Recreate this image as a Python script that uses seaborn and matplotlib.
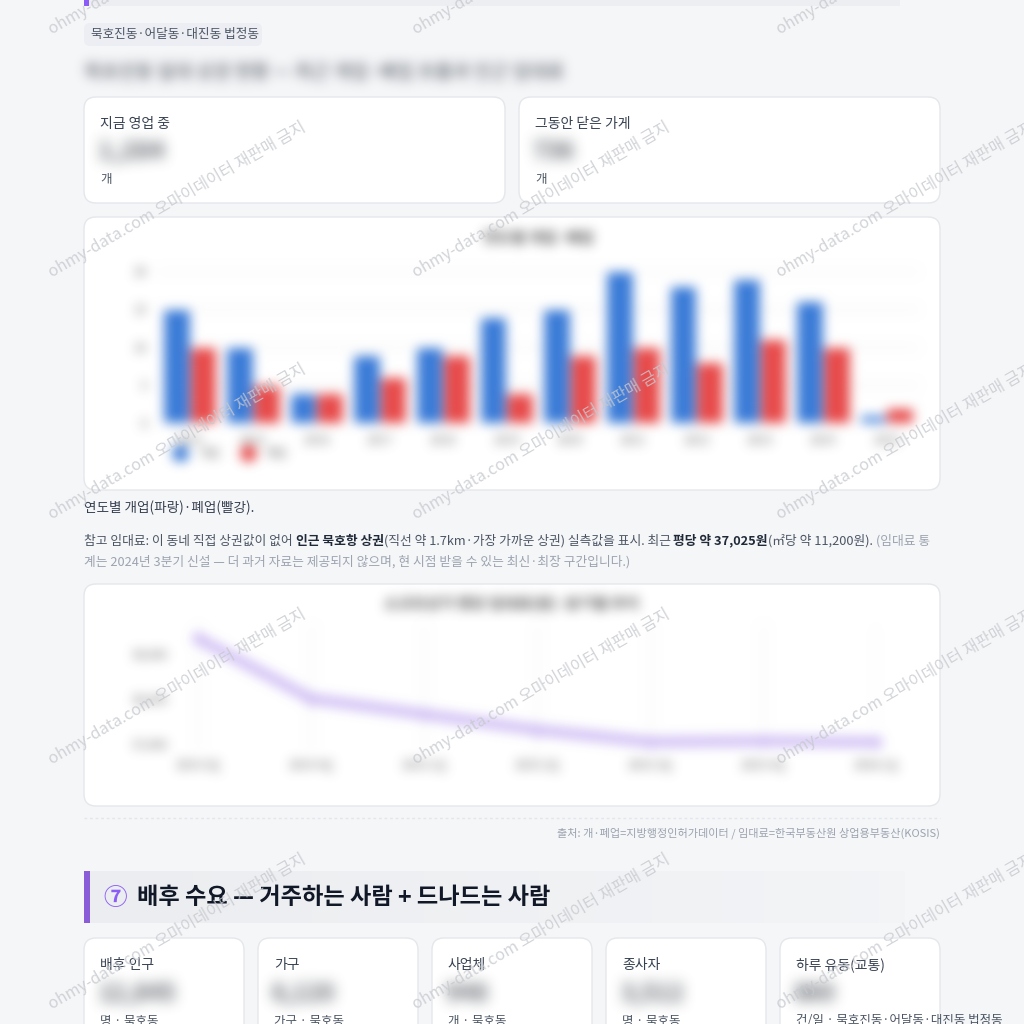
import numpy as np
import pandas as pd
import matplotlib
matplotlib.use('Agg')
import matplotlib.pyplot as plt
import seaborn as sns
from matplotlib.patches import FancyBboxPatch, Rectangle
from matplotlib.lines import Line2D

# 연도별 개업 / 폐업 건수
years = ['2014', '2015', '2016', '2017', '2018', '2019', '2020', '2021', '2022', '2023', '2024', '2025']
opened = [15, 10, 4, 9, 10, 14, 15, 20, 18, 19, 16, 1]
closed = [10, 5, 4, 6, 9, 4, 9, 10, 8, 11, 10, 2]
bar_ticks = [0, 5, 10, 15, 20]

# 분기별 평당 임대료
quarters = ['2024.3Q', '2024.4Q', '2025.1Q', '2025.2Q', '2025.3Q', '2025.4Q', '2026.1Q']
rent = [39350, 38000, 37650, 37300, 37030, 37050, 37025]
rent_ticks = [37000, 38000, 39000]

top_cards = ['지금 영업 중', '그동안 닫은 가게']
top_blobs = ['1,284', '736']
stat_cards = ['배후 인구', '가구', '사업체', '종사자', '하루 유동(교통)']
stat_blobs = ['12,845', '6,120', '948', '3,512', '860']
stat_units = ['명 · 묵호동', '가구 · 묵호동', '개 · 묵호동', '명 · 묵호동', '건/일 · 묵호진동·어달동·대진동 법정동']

W = H = 1024
BG = '#f5f6f8'
PURPLE = '#8b5cf6'


def box(a, r, axis):
    n = 2 * r + 1
    a = np.swapaxes(a, 0, axis)
    pad = [(r + 1, r)] + [(0, 0)] * (a.ndim - 1)
    c = np.cumsum(np.pad(a, pad), axis=0)
    out = (c[n:] - c[:-n]) / n
    return np.swapaxes(out, 0, axis)


class Blur:
    """흐림 효과 (agg_filter)"""
    def __init__(self, r):
        self.r = r

    def __call__(self, im, dpi):
        pad = 3 * self.r + 2
        im = np.pad(im, ((pad, pad), (pad, pad), (0, 0)))
        a = im[..., 3:4]
        pm = np.concatenate([im[..., :3] * a, a], axis=2)
        for _ in range(3):
            pm = box(pm, self.r, 0)
            pm = box(pm, self.r, 1)
        alpha = pm[..., 3:4]
        out = pm.copy()
        out[..., :3] = np.clip(pm[..., :3] / np.maximum(alpha, 1e-6), 0, 1)
        out[..., 3:4] = np.clip(alpha, 0, 1)
        return out, -pad, -pad


sns.set_theme(style='white')
plt.rcParams['font.family'] = ['Noto Sans CJK KR', 'DejaVu Sans']

fig = plt.figure(figsize=(10.24, 10.24), dpi=100)
fig.patch.set_facecolor(BG)
page = fig.add_axes([0, 0, 1, 1])
page.set_xlim(0, W)
page.set_ylim(H, 0)
page.axis('off')
renderer = fig.canvas.get_renderer()


def card(x0, y0, x1, y1, rad=12):
    page.add_patch(FancyBboxPatch((x0, y0), x1 - x0, y1 - y0,
                                  boxstyle='round,pad=0,rounding_size=%d' % rad,
                                  fc='white', ec='#e4e7eb', lw=1))


def blob(x, y, s, size=19, r=6):
    t = page.text(x, y, s, fontsize=size, fontweight='heavy', color='#5f646b',
                  va='center', ha='left')
    t.set_agg_filter(Blur(r))


def width_of(s, size, weight='normal'):
    t = page.text(0, 0, s, fontsize=size, fontweight=weight)
    w = t.get_window_extent(renderer).width
    t.remove()
    return w


def text_runs(x, y, runs, size):
    sw = width_of('가 가', size) - width_of('가가', size)
    for s, weight, color in runs:
        lead = len(s) - len(s.lstrip(' '))
        trail = len(s) - len(s.rstrip(' '))
        x += lead * sw
        t = page.text(x, y, s.strip(' '), fontsize=size, fontweight=weight,
                      color=color, va='center', ha='left')
        x += t.get_window_extent(renderer).width + trail * sw


# 상단 섹션 띠
page.add_patch(Rectangle((84, -6), 816, 12, fc='#eceef2', ec='none'))
page.add_patch(Rectangle((84, -6), 5, 12, fc=PURPLE, ec='none'))

# 법정동 배지
page.add_patch(FancyBboxPatch((84, 23), 178, 23, boxstyle='round,pad=0,rounding_size=6',
                              fc='#eceef3', ec='none'))
page.text(91, 34.5, '묵호진동·어달동·대진동 법정동', fontsize=9.1, color='#4b5563', va='center')

t = page.text(84, 72, '묵호진동 일대 상권 현황 — 최근 개업·폐업 흐름과 인근 임대료',
              fontsize=13.5, fontweight='heavy', color='#7f848b', va='center')
t.set_agg_filter(Blur(5))

# 영업 / 폐업 카드
for i, (lab, b) in enumerate(zip(top_cards, top_blobs)):
    x0 = 84 + i * 435
    card(x0, 97, x0 + 421, 203)
    page.text(x0 + 16, 124, lab, fontsize=10, color='#374151', va='center')
    blob(x0 + 14, 152, b, size=18 if i == 0 else 17)
    page.text(x0 + 16, 180, '개', fontsize=9, color='#4b5563', va='center')

# 막대 차트 카드
card(84, 217, 940, 490)
df_bar = pd.DataFrame({'연도': years * 2, '건수': opened + closed,
                       '구분': ['개업'] * len(years) + ['폐업'] * len(years)})
axb = fig.add_axes([158 / W, 1 - 423 / H, 760 / W, 152 / H])
sns.barplot(data=df_bar, x='연도', y='건수', hue='구분', palette=['#3a7bd8', '#e84a4a'],
            width=0.84, gap=0, saturation=1, legend=False, ax=axb)
axb.set_ylim(0, 20)
axb.set_yticks(bar_ticks)
axb.set_facecolor('none')
axb.grid(axis='y', color='#e9e9e9', lw=1)
axb.set_xlabel('')
axb.set_ylabel('')
sns.despine(ax=axb, left=True, bottom=True)
axb.tick_params(colors='#666666', labelsize=8.5, length=0, pad=8)
handles = [Line2D([], [], marker='o', ls='', ms=11, mfc=c, mec=c) for c in ['#3a7bd8', '#e84a4a']]
axb.legend(handles, ['개업', '폐업'], loc='center left', bbox_to_anchor=(0.0, -0.2),
           frameon=False, ncol=2, fontsize=8.5, labelcolor='#666666',
           handletextpad=0.5, columnspacing=1.4)
axb.text(0.5, 1 + 33 / 152, '연도별 개업·폐업', transform=axb.transAxes, ha='center',
         va='center', fontsize=11, fontweight='bold', color='#555555')
axb.set_agg_filter(Blur(5))

page.text(84, 508, '연도별 개업(파랑)·폐업(빨강).', fontsize=9.8, color='#374151', va='center')

dark = '#4b5563'
bold = '#1f2937'
grey = '#9ca3af'
text_runs(84, 541, [('참고 임대료: 이 동네 직접 상권값이 없어 ', 'normal', dark),
                    ('인근 묵호항 상권', 'bold', bold),
                    ('(직선 약 1.7km·가장 가까운 상권) 실측값을 표시. 최근 ', 'normal', dark),
                    ('평당 약 37,025원', 'bold', bold),
                    ('(㎡당 약 11,200원). ', 'normal', dark),
                    ('(임대료 통', 'normal', grey)], 9.2)
text_runs(84, 562, [('계는 2024년 3분기 신설 — 더 과거 자료는 제공되지 않으며, 현 시점 받을 수 있는 최신·최장 구간입니다.)',
                     'normal', grey)], 9.2)

# 임대료 라인 차트 카드
card(84, 584, 940, 806)
df_rent = pd.DataFrame({'분기': quarters, '임대료': rent})
axl = fig.add_axes([198 / W, 1 - 750 / H, 678 / W, 125 / H])
sns.lineplot(data=df_rent, x='분기', y='임대료', sort=False, color='#cdbaf4', lw=7,
             marker='o', ms=8, mec='#cdbaf4', ax=axl, clip_on=False)
axl.set_xlim(0, len(quarters) - 1)
axl.set_ylim(36850, 39650)
axl.set_yticks(rent_ticks)
axl.set_yticklabels(['{:,}'.format(v) for v in rent_ticks])
axl.set_facecolor('none')
axl.grid(axis='x', color='#efefef', lw=1)
axl.set_xlabel('')
axl.set_ylabel('')
sns.despine(ax=axl, left=True, bottom=True)
axl.tick_params(colors='#666666', labelsize=8.5, length=0)
axl.tick_params(axis='y', pad=22)
axl.tick_params(axis='x', pad=6)
axl.set_agg_filter(Blur(5))
t = page.text(512, 604, '소규모상가 평당 임대료(원)·분기별 추이', fontsize=11,
              fontweight='bold', color='#555555', ha='center', va='center')
t.set_agg_filter(Blur(5))

# 출처
page.plot([84, 940], [818, 818], color='#e3e6ea', lw=1, ls=(0, (2, 2)))
page.text(940, 833, '출처: 개·폐업=지방행정인허가데이터 / 임대료=한국부동산원 상업용부동산(KOSIS)',
          fontsize=8.0, color='#9ca3af', ha='right', va='center')

# 섹션 7 제목 띠
grad = np.ones((1, 256, 4))
grad[..., :3] = np.array([0.925, 0.93, 0.945])
grad[..., 3] = np.linspace(1, 0.2, 256)
page.imshow(grad, extent=(84, 905, 923, 871), aspect='auto', zorder=1)
page.add_patch(Rectangle((84, 871), 6, 52, fc='#8a5cd8', ec='none', zorder=2))
page.text(103, 898, '⑦', fontsize=17, fontweight='bold', color=PURPLE, va='center', zorder=3)
page.text(137, 898, '배후 수요 — 거주하는 사람 + 드나드는 사람', fontsize=16.7,
          fontweight='bold', color='#111827', va='center', zorder=3)
page.set_xlim(0, W)
page.set_ylim(H, 0)

# 배후 수요 카드
for i, (lab, b, u) in enumerate(zip(stat_cards, stat_blobs, stat_units)):
    x0 = 84 + i * 174
    card(x0, 938, x0 + 160, 1060)
    page.text(x0 + 16, 965, lab, fontsize=10, color='#374151', va='center')
    blob(x0 + 14, 994, b, size=17)
    page.text(x0 + 16, 1021, u, fontsize=9, color='#4b5563', va='center')

# 워터마크
for wy in [35, 278, 520, 765, 1010]:
    for wx in [52, 416, 780]:
        fig.text(wx, wy, 'ohmy-data.com 오마이데이터 재판매 금지', transform=page.transData,
                 fontsize=11.6, color='#c6c9ce', alpha=0.8, rotation=30,
                 rotation_mode='anchor', ha='left', va='baseline', zorder=10)

fig.savefig('out.png', dpi=100, facecolor=BG)
